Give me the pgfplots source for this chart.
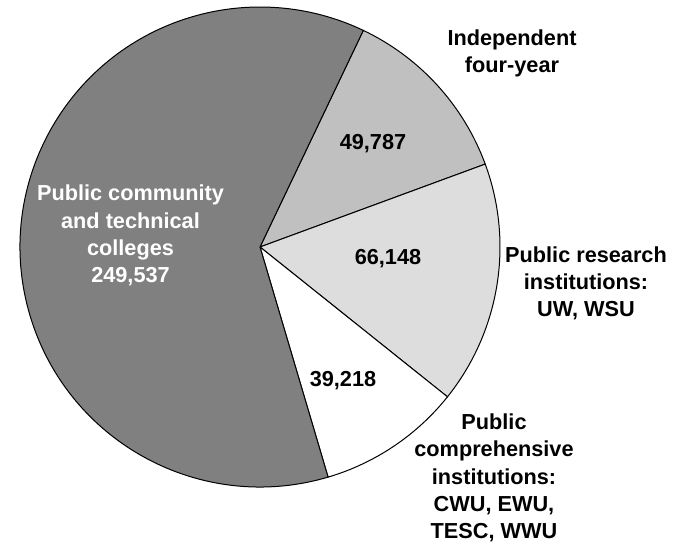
\documentclass[border=0pt]{standalone}
\usepackage{pgfplots}
\pgfplotsset{compat=1.18}
\usepackage{fontspec}
\setmainfont{Liberation Sans}
% enrolment by sector (plain values)
\def\vInd{49787}
\def\vRes{66148}
\def\vComp{39218}
\def\vComm{249537}
\edef\vTot{\fpeval{\vInd+\vRes+\vComp+\vComm}}
\edef\aA{64.5}
\edef\aB{\fpeval{\aA-360*\vInd/\vTot}}
\edef\aC{\fpeval{\aB-360*\vRes/\vTot}}
\edef\aD{\fpeval{\aC-360*\vComp/\vTot}}
\edef\aE{\fpeval{\aD-360*\vComm/\vTot}}
\definecolor{cComm}{HTML}{808080}
\definecolor{cInd}{HTML}{C0C0C0}
\definecolor{cRes}{HTML}{DDDDDD}
\tikzset{lbl/.style={font=\bfseries\fontsize{10.85}{13.65}\selectfont, align=center, inner sep=0pt}}
\begin{document}
\begin{tikzpicture}
\begin{axis}[
  width=339.5pt, height=272pt, scale only axis,
  xmin=0, xmax=679, ymin=0, ymax=544,
  hide axis, clip=false,
]
\def\cx{260}\def\cy{297}
\filldraw[fill=cInd, draw=black, line width=0.5pt] (axis cs:\cx,\cy) -- ++(\aA:120pt) arc[start angle=\aA, end angle=\aB, radius=120pt] -- cycle;
\filldraw[fill=cRes, draw=black, line width=0.5pt] (axis cs:\cx,\cy) -- ++(\aB:120pt) arc[start angle=\aB, end angle=\aC, radius=120pt] -- cycle;
\filldraw[fill=white, draw=black, line width=0.5pt] (axis cs:\cx,\cy) -- ++(\aC:120pt) arc[start angle=\aC, end angle=\aD, radius=120pt] -- cycle;
\filldraw[fill=cComm, draw=black, line width=0.5pt] (axis cs:\cx,\cy) -- ++(\aD:120pt) arc[start angle=\aD, end angle=\aE, radius=120pt] -- cycle;
\node[lbl] at (axis cs:512,490.7) {Independent\\four-year};
\node[lbl] at (axis cs:373,400) {49,787};
\node[lbl, text=white] at (axis cs:130.5,308.5) {Public community\\and technical\\colleges\\249,537};
\node[lbl] at (axis cs:388,285) {66,148};
\node[lbl] at (axis cs:586,260.7) {Public research\\institutions:\\UW, WSU};
\node[lbl] at (axis cs:343,163.7) {39,218};
\node[lbl] at (axis cs:494,66) {Public\\comprehensive\\institutions:\\CWU, EWU,\\TESC, WWU};
\end{axis}
\pgfresetboundingbox
\path (current axis.south west) rectangle (current axis.north east);
\end{tikzpicture}
\end{document}
